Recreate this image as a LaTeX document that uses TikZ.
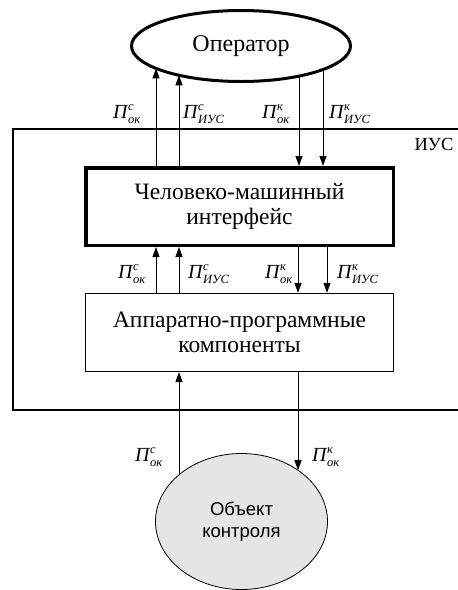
\documentclass[tikz,border=0pt]{standalone}
\usepackage{fontspec}
\setmainfont{Liberation Serif}
\newfontfamily\objfont{Liberation Sans}
\usetikzlibrary{shapes.geometric,arrows.meta,intersections}

% flow label: italic Pi with stacked super- and subscript
\newcommand{\sigflow}[2]{\fontsize{20}{20}\selectfont\itshape П\kern0.5pt\rlap{\raisebox{8pt}{\fontsize{12.5}{12.5}\selectfont #1}}\raisebox{-5pt}{\fontsize{12.5}{12.5}\selectfont #2}}

\tikzset{
  opnode/.style={ellipse, draw, line width=3pt, minimum width=219pt, minimum height=71pt, inner sep=0pt,
    font=\fontsize{24}{26}\selectfont},
  hmibox/.style={rectangle, draw, line width=3.5pt, minimum width=307.5pt, minimum height=77.5pt, inner sep=0pt,
    align=center, font=\fontsize{23.5}{25}\selectfont},
  apkbox/.style={rectangle, draw, line width=1.2pt, minimum width=308pt, minimum height=78pt, inner sep=0pt,
    align=center, font=\fontsize{23.5}{25}\selectfont},
  objnode/.style={ellipse, draw, line width=0.8pt, fill=black!10, minimum width=172pt, minimum height=136pt,
    inner sep=0pt, align=center, font=\objfont\fontsize{18.5}{22}\selectfont},
  flowlbl/.style={anchor=base west, inner sep=0pt},
  arr/.style={line width=0.9pt, -{Triangle[length=10pt,width=7pt]}},
  plain/.style={line width=0.9pt},
  frame/.style={line width=1.4pt}
}

\begin{document}
\begin{tikzpicture}[x=1pt,y=-1pt]
\useasboundingbox (0,0) rectangle (458,590);

% system boundary (open on the right)
\coordinate (fTR) at (458,129);
\coordinate (fTL) at (13,129);
\coordinate (fBL) at (13,410);
\coordinate (fBR) at (458,410);
\draw[frame] (fTR) -- (fTL) -- (fBL) -- (fBR);
\node[inner sep=0pt, anchor=base, font=\fontsize{18.5}{20}\selectfont] (ius) at (434,150) {ИУС};

% blocks
\node[opnode, name path=opE] (op) at (241,46) {Оператор};
\node[hmibox] (hmi) at (239.5,206.5) {Человеко-машинный\\интерфейс};
\node[apkbox] (apk) at (239.5,332.5) {Аппаратно-программные\\компоненты};
\node[objnode, name path=objE] (obj) at (241.5,521.5) {Объект\\контроля};

% points where the vertical flows meet the ellipses
\path[name path=va] (156,46) -- (156,140);
\path[name path=vb] (179,46) -- (179,140);
\path[name path=vc] (299,46) -- (299,140);
\path[name path=vd] (323,46) -- (323,140);
\path[name path=ve] (179,380) -- (179,521);
\path[name path=vf] (298,380) -- (298,521);
\path[name intersections={of=opE and va, by=opA}];
\path[name intersections={of=opE and vb, by=opB}];
\path[name intersections={of=opE and vc, by=opC}];
\path[name intersections={of=opE and vd, by=opD}];
\path[name intersections={of=objE and ve, by=objE1}];
\path[name intersections={of=objE and vf, by=objF}];

% operator <-> interface
\draw[arr] (hmi.north -| opA) -- (opA);
\draw[arr] (hmi.north -| opB) -- (opB);
\draw[arr] (opC) -- (hmi.north -| opC);
\draw[arr] (opD) -- (hmi.north -| opD);

% interface <-> components
\coordinate (mA) at (156,0);
\coordinate (mB) at (179,0);
\coordinate (mC) at (298,0);
\coordinate (mD) at (327,0);
\draw[arr] (apk.north -| mA) -- (hmi.south -| mA);
\draw[arr] (apk.north -| mB) -- (hmi.south -| mB);
\draw[arr] (hmi.south -| mC) -- (apk.north -| mC);
\draw[arr] (hmi.south -| mD) -- (apk.north -| mD);

% components <-> controlled object
\draw[arr] (objE1) -- (apk.south -| objE1);
\draw[arr] (apk.south -| objF) -- (objF);

% flow labels
\node[flowlbl] (l1) at (113,118) {\sigflow{с}{ок}};
\node[flowlbl] (l2) at (183,118) {\sigflow{с}{ИУС}};
\node[flowlbl] (l3) at (262,118) {\sigflow{к}{ок}};
\node[flowlbl] (l4) at (329,118) {\sigflow{к}{ИУС}};

\node[flowlbl] (l5) at (118,278) {\sigflow{с}{ок}};
\node[flowlbl] (l6) at (188,278) {\sigflow{с}{ИУС}};
\node[flowlbl] (l7) at (265,278) {\sigflow{к}{ок}};
\node[flowlbl] (l8) at (337,278) {\sigflow{к}{ИУС}};

\node[flowlbl] (l9) at (135,461) {\sigflow{с}{ок}};
\node[flowlbl] (l10) at (312,461) {\sigflow{к}{ок}};
\end{tikzpicture}
\end{document}
